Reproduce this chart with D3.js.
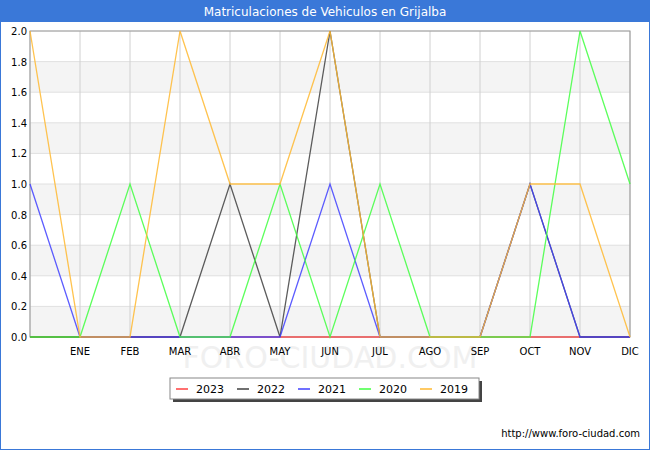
<!DOCTYPE html>
<html><head><meta charset="utf-8">
<script src="https://cdn.jsdelivr.net/npm/d3@7"></script>
<style>body{margin:0}svg{font-family:"DejaVu Sans",sans-serif}</style>
</head><body><script>
// months (first slot is the unlabeled start point)
const months = ["", "ENE","FEB","MAR","ABR","MAY","JUN","JUL","AGO","SEP","OCT","NOV","DIC"];
const yTicks = [0,0.2,0.4,0.6,0.8,1.0,1.2,1.4,1.6,1.8,2.0];
const years = ["2023","2022","2021","2020","2019"];
const colors = ["#ff4040","#404040","#4040ff","#40ff40","#ffb830"];
const v2023 = [0,0,0,0,0,0,0,0,0,0,0,0,0];
const v2022 = [0,0,0,0,1,0,2,0,0,0,1,0,0];
const v2021 = [1,0,0,0,0,0,1,0,0,0,1,0,0];
const v2020 = [0,0,1,0,0,1,0,1,0,0,0,2,1];
const v2019 = [2,0,0,2,1,1,2,0,0,0,1,1,0];
const series = [v2023,v2022,v2021,v2020,v2019];

const W=650,H=450, L=30,R=630,T=31,B=337;
const svg=d3.select("body").append("svg").attr("width",W).attr("height",H);
svg.append("rect").attr("x",0.5).attr("y",0.5).attr("width",W-1).attr("height",H-1).attr("fill","#fff").attr("stroke","#3a78d8");
svg.append("rect").attr("width",W).attr("height",22).attr("fill","#3a78d8");
svg.append("text").attr("x",W/2).attr("y",16).attr("text-anchor","middle").attr("fill","#fff").attr("font-size",12).text("Matriculaciones de Vehiculos en Grijalba");

const x=d3.scalePoint().domain(d3.range(months.length)).range([L,R]);
const y=d3.scaleLinear().domain([0,2]).range([B,T]);

// bands
for(let i=0;i<yTicks.length-1;i++){
  if(i%2===0) svg.append("rect").attr("x",L).attr("width",R-L).attr("y",y(yTicks[i+1])).attr("height",y(yTicks[i])-y(yTicks[i+1])).attr("fill","#f4f4f4");
}
svg.append("g").selectAll("line").data(yTicks).join("line").attr("x1",L).attr("x2",R).attr("y1",d=>y(d)).attr("y2",d=>y(d)).attr("stroke","#e0e0e0");
svg.append("g").selectAll("line").data(d3.range(months.length)).join("line").attr("x1",d=>x(d)).attr("x2",d=>x(d)).attr("y1",T).attr("y2",B).attr("stroke","#d0d0d0");
svg.append("rect").attr("x",L).attr("y",T).attr("width",R-L).attr("height",B-T).attr("fill","none").attr("stroke","#999");

svg.append("text").attr("x",(L+R)/2).attr("y",368).attr("text-anchor","middle").attr("font-size",30).attr("fill","#f0f0f0").text("FORO-CIUDAD.COM");

svg.append("g").selectAll("text").data(yTicks).join("text").attr("x",L-3).attr("y",d=>y(d)+4).attr("text-anchor","end").attr("font-size",10).text(d=>d.toFixed(1));
svg.append("g").selectAll("text").data(months).join("text").attr("x",(d,i)=>x(i)).attr("y",B+18).attr("text-anchor","middle").attr("font-size",10).text(d=>d);

const line=d3.line().x((d,i)=>x(i)).y(d=>y(d));
series.forEach((s,k)=>svg.append("path").attr("d",line(s)).attr("fill","none").attr("stroke",colors[k]).attr("stroke-width",1.3).attr("opacity",0.85));

// legend
const lg=svg.append("g");
lg.append("rect").attr("x",173).attr("y",381).attr("width",309).attr("height",21).attr("fill","#444");
lg.append("rect").attr("x",170).attr("y",378).attr("width",309).attr("height",21).attr("fill","#fff").attr("stroke","#888");
years.forEach((yr,i)=>{
  const gx=176+i*61;
  lg.append("line").attr("x1",gx).attr("x2",gx+12).attr("y1",389).attr("y2",389).attr("stroke",colors[i]).attr("stroke-width",1.5);
  lg.append("text").attr("x",gx+20).attr("y",393).attr("font-size",11).text(yr);
});
svg.append("text").attr("x",640).attr("y",437).attr("text-anchor","end").attr("font-size",10).text("http://www.foro-ciudad.com");
</script></body></html>
